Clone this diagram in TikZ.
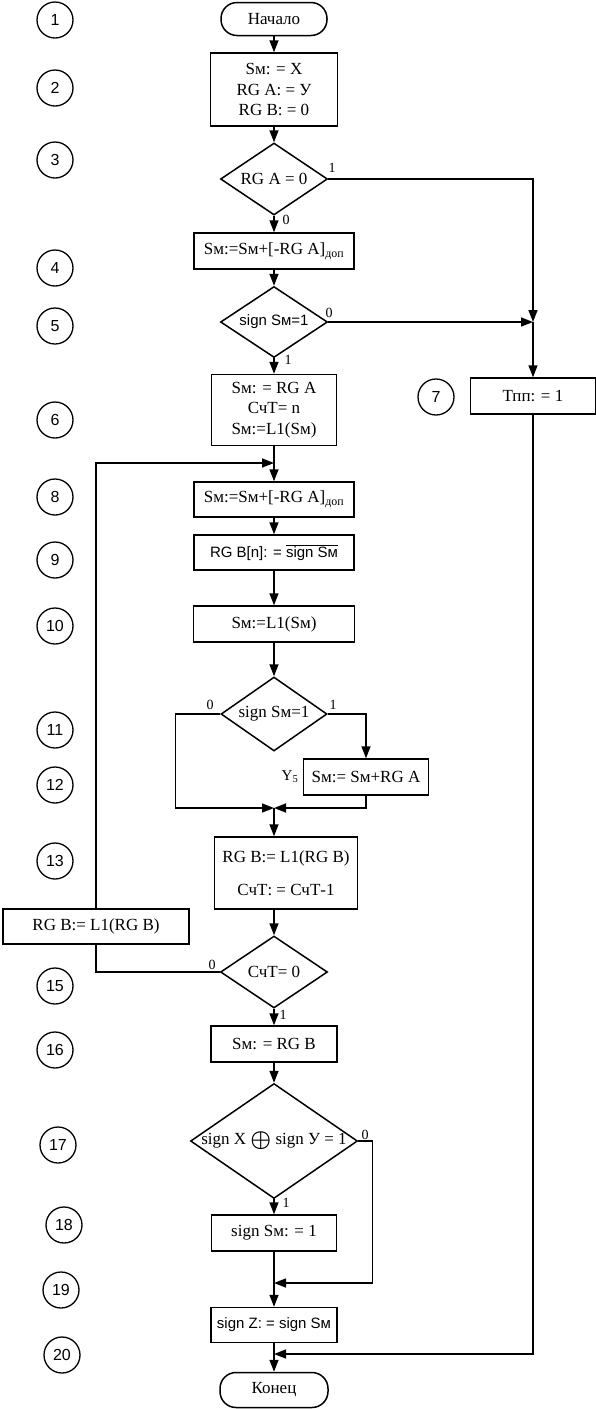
\documentclass[tikz,border=0pt]{standalone}
\usepackage{fontspec}
\setmainfont{Liberation Serif}
\setsansfont{Liberation Sans}
\usetikzlibrary{shapes.geometric,arrows.meta}
\tikzset{
  linea/.style={line width=1.5pt},
  caja/.style={draw,line width=1.5pt,fill=white,align=center,font=\fontsize{17}{20.5}\selectfont,inner sep=2pt},
  cajasans/.style={caja,font=\sffamily\fontsize{15}{18}\selectfont},
  terminal/.style={caja,rounded corners=16pt},
  rombo/.style={draw,diamond,line width=1.5pt,fill=white,align=center,inner sep=0pt,aspect=1.5,font=\fontsize{17}{20}\selectfont},
  rombosans/.style={rombo,font=\sffamily\fontsize{15}{18}\selectfont},
  numero/.style={draw,circle,line width=1.3pt,minimum size=36pt,inner sep=0pt,font=\sffamily\fontsize{16}{18}\selectfont},
  flecha/.style={-{Stealth[length=12pt,width=9pt,inset=0pt]},line width=1.5pt},
  etiqueta/.style={font=\fontsize{14}{16}\selectfont,inner sep=1pt},
}

\begin{document}
\begin{tikzpicture}[x=1pt,y=-1pt]
  \useasboundingbox (0,0) rectangle (596,1409);
  % numeros de pasos
  \node[numero] (c1) at (55,20) {1}; \node[numero] (c2) at (55,88) {2};
  \node[numero] (c3) at (55,160) {3}; \node[numero] (c4) at (55,268) {4};
  \node[numero] (c5) at (55,326) {5}; \node[numero] (c6) at (55,420) {6};
  \node[numero] (c7) at (436,397) {7}; \node[numero] (c8) at (55,497) {8};
  \node[numero] (c9) at (55,560) {9}; \node[numero] (c10) at (55,626) {10};
  \node[numero] (c11) at (55,730) {11}; \node[numero] (c12) at (55,785) {12};
  \node[numero] (c13) at (55,861) {13}; \node[numero] (c15) at (55,986) {15};
  \node[numero] (c16) at (55,1050) {16}; \node[numero] (c17) at (58,1145) {17};
  \node[numero] (c18) at (64,1225) {18}; \node[numero] (c19) at (61,1290) {19};
  \node[numero] (c20) at (62,1355) {20};
  % bloques
  \node[terminal,minimum width=106pt,minimum height=33pt] (n1) at (274,19) {Начало};
  \node[caja,minimum width=127pt,minimum height=73pt] (n2) at (274,89.5) {Sм: = X\\RG A: = У\\RG B: = 0};
  \node[rombo,minimum width=107pt,minimum height=72pt] (n3) at (274,179) {RG A = 0};
  \node[caja,minimum width=160pt,minimum height=36pt] (n4) at (274,251) {Sм:=Sм+[-RG A]\textsubscript{доп}};
  \node[rombosans,minimum width=107pt,minimum height=71pt] (n5) at (274,322) {sign Sм=1};
  \node[caja,minimum width=125pt,minimum height=71pt] (n6) at (274,410) {Sм: = RG A\\СчТ= n\\Sм:=L1(Sм)};
  \node[caja,minimum width=125pt,minimum height=36pt] (n7) at (533,396) {Тпп: = 1};
  \node[caja,minimum width=160pt,minimum height=35pt] (n8) at (274,499.5) {Sм:=Sм+[-RG A]\textsubscript{доп}};
  \node[cajasans,minimum width=160pt,minimum height=35pt] (n9) at (274,552.5) {RG B[n]: = \(\overline{\mbox{sign Sм}}\)};
  \node[caja,minimum width=161pt,minimum height=36pt] (n10) at (274,624) {Sм:=L1(Sм)};
  \node[rombo,minimum width=106pt,minimum height=74pt] (n11) at (274,714) {sign Sм=1};
  \node[caja,minimum width=125pt,minimum height=36pt] (n12) at (366,777) {Sм:= Sм+RG A};
  \node[etiqueta,font=\fontsize{15}{17}\selectfont] (y5) at (290,777) {Y\textsubscript{5}};
  \node[caja,minimum width=143pt,minimum height=72pt] (n13) at (286,873) {RG B:= L1(RG B)\\[12pt]СчТ: = СчТ-1};
  \node[caja,minimum width=186pt,minimum height=35pt] (n14) at (96,926.5) {RG B:= L1(RG B)};
  \node[rombo,minimum width=107pt,minimum height=72pt] (n15) at (274,972) {СчТ= 0};
  \node[caja,minimum width=126pt,minimum height=36pt] (n16) at (274,1044) {Sм: = RG B};
  \node[rombo,aspect=1.45,inner sep=-3pt,minimum width=167pt,minimum height=115pt] (n17) at (274,1141) {sign X {\boldmath\raisebox{-2pt}{\scalebox{1.35}{\(\oplus\)}}} sign У = 1};
  \node[caja,minimum width=125pt,minimum height=36pt] (n18) at (274,1233) {sign Sм: = 1};
  \node[cajasans,minimum width=126pt,minimum height=35pt] (n19) at (274,1325) {sign Z: = sign Sм};
  \node[terminal,minimum width=108pt,minimum height=35pt] (n20) at (274,1390) {Конец};
  % puntos de union
  \coordinate (j5) at (533,322);
  \coordinate (j8) at (274,463);
  \coordinate (j13) at (274,808);
  \coordinate (j19) at (274,1283);
  \coordinate (j20) at (274,1354);
  % conexiones
  \draw[flecha] (n1) -- (n2); \draw[flecha] (n2) -- (n3);
  \draw[flecha] (n3) -- (n4); \draw[flecha] (n3.east) -| (j5);
  \draw[flecha] (n4) -- (n5); \draw[flecha] (n5) -- (n6);
  \draw[flecha] (n5.east) -- (j5); \draw[flecha] (j5) -- (n7.north);
  \draw[linea] (n6) -- (j8); \draw[flecha] (j8) -- (n8);
  \draw[flecha] (n8) -- (n9); \draw[flecha] (n9) -- (n10);
  \draw[flecha] (n10) -- (n11);
  \draw[flecha] (n11.west) -- ++(-45,0) |- (j13);
  \draw[flecha] (n11.east) -| (n12.north);
  \draw[flecha] (n12.south) |- (j13);
  \draw[flecha] (j13) -- (j13 |- n13.north);
  \draw[flecha] (n13.south -| n15) -- (n15);
  \draw[linea] (n15.west) -| (n14.south);
  \draw[flecha] (n14.north) |- (j8);
  \draw[flecha] (n15) -- (n16); \draw[flecha] (n16) -- (n17);
  \draw[flecha] (n17) -- (n18);
  \draw[flecha] (n17.east) -- ++(14,0) |- (j19);
  \draw[linea] (n18) -- (j19); \draw[flecha] (j19) -- (n19);
  \draw[linea] (n19) -- (j20); \draw[flecha] (j20) -- (n20);
  \draw[flecha] (n7.south) |- (j20);
  % etiquetas 0/1
  \node[etiqueta] (e3a) at (332,168) {1}; \node[etiqueta] (e3b) at (286,220) {0};
  \node[etiqueta] (e5a) at (329,313) {0}; \node[etiqueta] (e5b) at (288,360) {1};
  \node[etiqueta] (e11a) at (210,705) {0}; \node[etiqueta] (e11b) at (333,705) {1};
  \node[etiqueta] (e15a) at (212,965) {0}; \node[etiqueta] (e15b) at (283,1015) {1};
  \node[etiqueta] (e17a) at (365,1135) {0}; \node[etiqueta] (e17b) at (286,1203) {1};
\end{tikzpicture}
\end{document}
